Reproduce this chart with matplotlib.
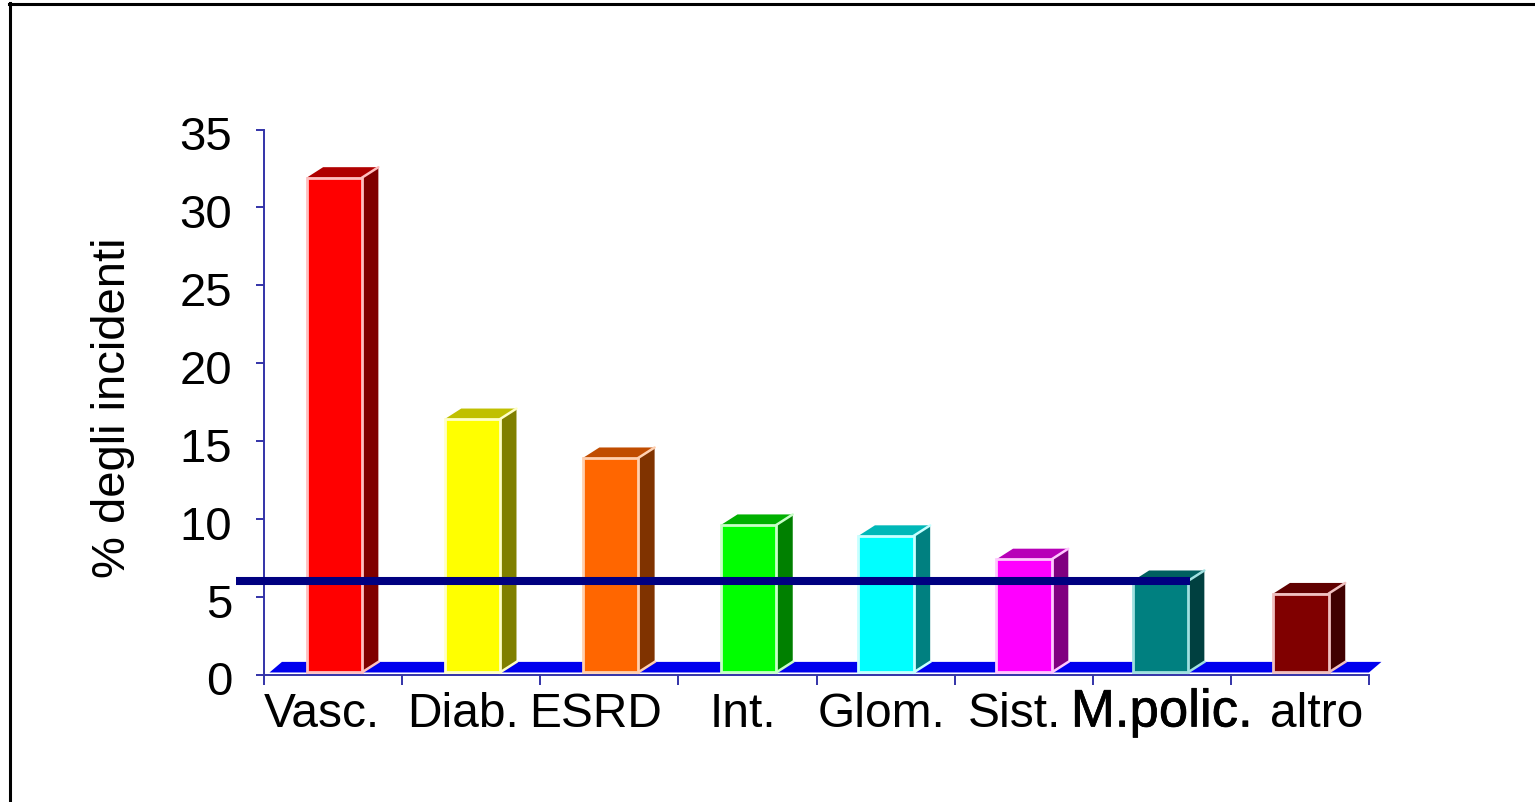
import matplotlib
matplotlib.use("Agg")
import matplotlib.pyplot as plt
from matplotlib.patches import Polygon
from matplotlib.lines import Line2D
from matplotlib.transforms import ScaledTranslation
import matplotlib.patheffects as pe

plt.rcParams['font.family'] = ['Liberation Sans', 'DejaVu Sans']

categories = ["Vasc.", "Diab.", "ESRD", "Int.", "Glom.", "Sist.", "M.polic.", "altro"]
values = [31.9, 16.4, 13.9, 9.6, 8.9, 7.4, 6.0, 5.2]
y_ticks = [0, 5, 10, 15, 20, 25, 30, 35]
front_colors = ["#ff0000", "#ffff00", "#ff6600", "#00ff00", "#00ffff", "#ff00ff", "#008080", "#800000"]
top_colors = ["#b00000", "#c0c000", "#c04c00", "#00b000", "#00b8b8", "#b800b8", "#006060", "#600000"]
side_colors = ["#800000", "#808000", "#803300", "#008000", "#008080", "#800080", "#004040", "#400000"]
edge_colors = ["#ffc0c0", "#ffffc8", "#ffd0b0", "#c8ffc8", "#c8ffff", "#ffc8ff", "#a0e0e0", "#f0c0c0"]
reference_level = 6.0

W, H = 1535, 803
fig = plt.figure(figsize=(W / 100, H / 100), dpi=100, facecolor="white")
ax = fig.add_axes([264 / W, (H - 675.5) / H, (1369 - 264) / W, (675.5 - 130.5) / H])
ax.patch.set_alpha(0)
ax.set_xlim(0, len(categories))
ax.set_ylim(0, 35)

axis_color = "#3333a8"
for s in ("top", "right"):
    ax.spines[s].set_visible(False)
for s in ("left", "bottom"):
    ax.spines[s].set_color(axis_color)
    ax.spines[s].set_linewidth(1.4)

ax.set_yticks(y_ticks)
ax.set_xticks(range(len(categories) + 1))
ax.set_xticklabels([])
ax.tick_params(axis="y", length=6, width=1.4, color=axis_color, labelsize=34, pad=17)
ax.tick_params(axis="x", length=7.5, width=1.4, color=axis_color)
shift = ScaledTranslation(0, -3 / 100, fig.dpi_scale_trans)
for lab in ax.get_yticklabels():
    lab.set_transform(lab.get_transform() + shift)

# 3-D geometry, in data units
dx, dy = 0.12, 0.68
base = 0.13
bar_w = 0.40
off = 0.508
nudge = [0, 0, 0, 0, -0.005, -0.005, -0.02, 0]

# floor
ax.add_patch(Polygon([(0.04, base), (0.13, base + dy), (len(categories) + 0.09, base + dy),
                      (len(categories), base)], closed=True, fc="#0000ee", ec="none", zorder=1,
                     clip_on=False))

for i, v in enumerate(values):
    xc = i + off + nudge[i]
    xl = xc - bar_w / 2
    xr = xc + bar_w / 2
    ax.add_patch(Polygon([(xl, v), (xl + dx, v + dy), (xr + dx, v + dy), (xr, v)], closed=True,
                         fc=top_colors[i], ec="none", zorder=2))
    ax.add_patch(Polygon([(xr, base), (xr + dx, base + dy), (xr + dx, v + dy), (xr, v)], closed=True,
                         fc=side_colors[i], ec="none", zorder=2))
    ax.plot([xr, xr + dx], [v, v + dy], color=edge_colors[i], lw=1.8, zorder=3, solid_capstyle="round")
    ax.plot([xr, xr + dx], [base, base + dy], color=edge_colors[i], lw=1.8, zorder=3)
    ax.bar(xc, v - base, width=bar_w, bottom=base, color=front_colors[i],
           edgecolor=edge_colors[i], linewidth=2.0, zorder=4)

# reference line
ax.plot([-0.203, 6.705], [reference_level, reference_level], color="#000080", lw=5.8,
        solid_capstyle="butt", clip_on=False, zorder=6)

# category labels (hand-placed in the original slide)
label_x = [0.42, 1.44, 2.40, 3.47, 4.47, 5.43, 6.50, 7.62]
for x, t in zip(label_x, categories):
    special = t == "M.polic."
    txt = ax.annotate(t, xy=(x, 0), xycoords=ax.get_xaxis_transform(), xytext=(0, -52),
                      textcoords="offset pixels", ha="center", va="baseline",
                      fontsize=38 if special else 34.5, color="black")
    if special:
        txt.set_path_effects([pe.withStroke(linewidth=0.5, foreground="black")])

fig.text(113.5 / W, (H - 408) / H, "% degli incidenti", rotation=90, ha="center", va="center",
         fontsize=34, color="black")

# slide frame
fig.add_artist(Line2D([10 / W, 10 / W], [0, (H - 4) / H], color="black", lw=2.2, transform=fig.transFigure))
fig.add_artist(Line2D([9 / W, 1], [(H - 5) / H, (H - 5) / H], color="black", lw=2.2, transform=fig.transFigure))

fig.savefig("out.png", dpi=100)
